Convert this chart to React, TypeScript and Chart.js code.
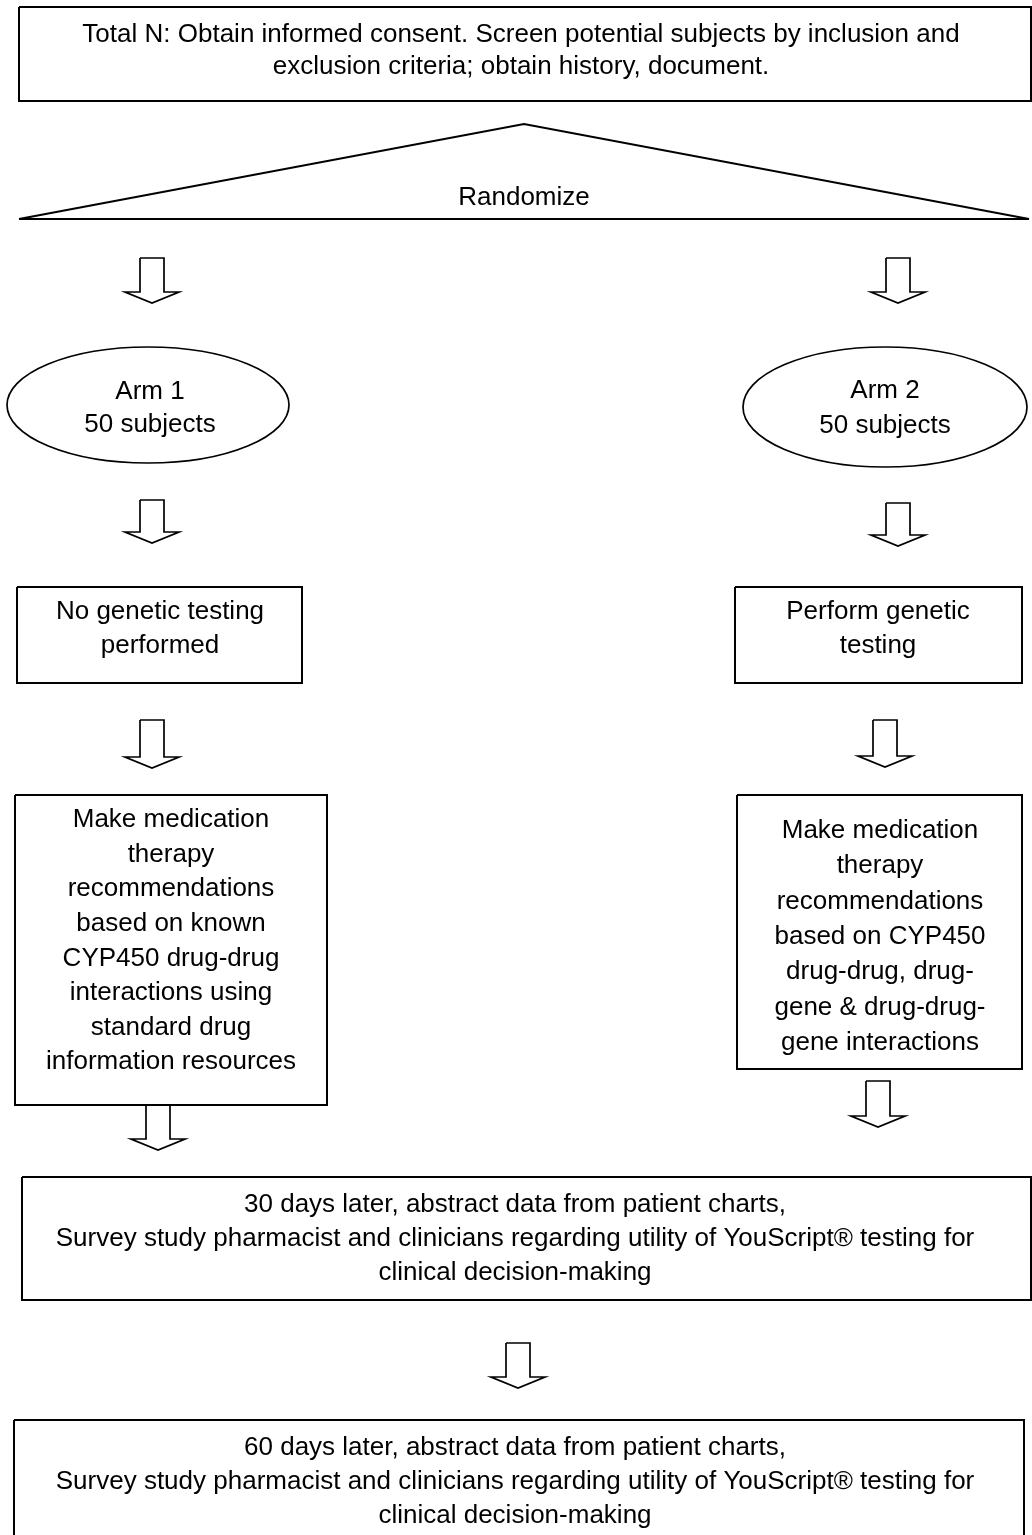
import { useEffect, useRef } from "react";
import { Chart, registerables } from "chart.js";

Chart.register(...registerables);

const W = 1032;
const H = 1535;

// Text of each node (one entry per line)
const topText = [
  "Total N: Obtain informed consent. Screen potential subjects by inclusion and",
  "exclusion criteria; obtain history, document.",
];
const randomizeText = ["Randomize"];
const arm1Text = ["Arm 1", "50 subjects"];
const arm2Text = ["Arm 2", "50 subjects"];
const noTestText = ["No genetic testing", "performed"];
const testText = ["Perform genetic", "testing"];
const arm1RecText = [
  "Make medication",
  "therapy",
  "recommendations",
  "based on known",
  "CYP450 drug-drug",
  "interactions using",
  "standard drug",
  "information resources",
];
const arm2RecText = [
  "Make medication",
  "therapy",
  "recommendations",
  "based on CYP450",
  "drug-drug, drug-",
  "gene & drug-drug-",
  "gene interactions",
];
const day30Text = [
  "30 days later, abstract data from patient charts,",
  "Survey study pharmacist and clinicians regarding utility of YouScript® testing for",
  "clinical decision-making",
];
const day60Text = [
  "60 days later, abstract data from patient charts,",
  "Survey study pharmacist and clinicians regarding utility of YouScript® testing for",
  "clinical decision-making",
];

// Rectangles: [x0, x1, y0, y1] in diagram units
const rectTop = [19, 1031, 7, 101];
const rectNoTest = [17, 302, 587, 683];
const rectTest = [735, 1022, 587, 683];
const rectArm1Rec = [15, 327, 795, 1105];
const rectArm2Rec = [737, 1022, 795, 1069];
const rectDay30 = [22, 1031, 1177, 1300];
const rectDay60 = [14, 1024, 1420, 1560];
const rects = [rectTop, rectNoTest, rectTest, rectArm1Rec, rectArm2Rec, rectDay30, rectDay60];

// Triangle vertices (x, y)
const triangleX = [19, 524, 1029, 19];
const triangleY = [219, 124, 219, 219];

// Ellipses: [cx, cy, rx, ry]
const ellipseArm1 = [148, 405, 141, 58];
const ellipseArm2 = [885, 407, 142, 60];
const ellipses = [ellipseArm1, ellipseArm2];

// Block arrows: [cx, yTop, yTip]
const arrowList = [
  [152, 258, 303],
  [898, 258, 303],
  [152, 500, 543],
  [898, 503, 546],
  [152, 720, 768],
  [885, 720, 767],
  [158, 1105, 1150],
  [878, 1081, 1127],
  [518, 1343, 1388],
];
const shaftHalf = 12;
const headHalf = 27;
const headH = 11;

// Text placement: [lines, cx, firstLineY, lineStep]
const textBlocks: [string[], number, number, number][] = [
  [topText, 521, 35, 32],
  [randomizeText, 524, 198, 34],
  [arm1Text, 150, 392, 33],
  [arm2Text, 885, 391, 35],
  [noTestText, 160, 612, 34],
  [testText, 878, 612, 34],
  [arm1RecText, 171, 820, 34.6],
  [arm2RecText, 880, 831, 35.3],
  [day30Text, 515, 1205, 34],
  [day60Text, 515, 1448, 34],
];

const FONT = '26px "Liberation Sans", Arial, sans-serif';

function polyDataset(xs: number[], ys: number[], width: number) {
  return {
    data: xs.map((x, i) => ({ x, y: ys[i] })),
    showLine: true,
    borderColor: "#000",
    borderWidth: width,
    pointRadius: 0,
    fill: false,
    tension: 0,
    clip: false as any,
    borderJoinStyle: "miter" as const,
    borderCapStyle: "butt" as const,
  };
}

export default function App() {
  const ref = useRef<HTMLCanvasElement | null>(null);

  useEffect(() => {
    document.body.style.margin = "0";
    const canvas = ref.current;
    if (!canvas) return;

    const datasets: any[] = [];
    rects.forEach(([x0, x1, y0, y1]) => {
      datasets.push(polyDataset([x0, x1, x1, x0, x0], [y0, y0, y1, y1, y0], 2));
    });
    datasets.push(polyDataset(triangleX, triangleY, 2));
    arrowList.forEach(([cx, top, tip]) => {
      const base = tip - headH;
      const xs = [cx - shaftHalf, cx - shaftHalf, cx - headHalf, cx, cx + headHalf, cx + shaftHalf, cx + shaftHalf, cx - shaftHalf];
      const ys = [top, base, base, tip, base, base, top, top];
      datasets.push(polyDataset(xs, ys, 1.7));
    });

    const overlay = {
      id: "flowOverlay",
      afterDatasetsDraw(chart: any) {
        const ctx = chart.ctx as CanvasRenderingContext2D;
        const xs = chart.scales.x;
        const ys = chart.scales.y;
        ctx.save();
        ctx.strokeStyle = "#000";
        ctx.lineWidth = 1.7;
        ellipses.forEach(([cx, cy, rx, ry]) => {
          const px = xs.getPixelForValue(cx);
          const py = ys.getPixelForValue(cy);
          const prx = Math.abs(xs.getPixelForValue(cx + rx) - px);
          const pry = Math.abs(ys.getPixelForValue(cy + ry) - py);
          ctx.beginPath();
          ctx.ellipse(px, py, prx, pry, 0, 0, Math.PI * 2);
          ctx.stroke();
        });
        ctx.fillStyle = "#000";
        ctx.font = FONT;
        ctx.textAlign = "center";
        ctx.textBaseline = "middle";
        textBlocks.forEach(([lines, cx, y0, step]) => {
          lines.forEach((line, i) => {
            ctx.fillText(line, xs.getPixelForValue(cx), ys.getPixelForValue(y0 + i * step));
          });
        });
        ctx.restore();
      },
    };

    const chart = new Chart(canvas, {
      type: "scatter",
      data: { datasets },
      options: {
        animation: false,
        responsive: false,
        devicePixelRatio: 1,
        layout: { padding: 0 },
        plugins: { legend: { display: false }, tooltip: { enabled: false } },
        events: [],
        scales: {
          x: { type: "linear", min: 0, max: W, display: false },
          y: { type: "linear", min: 0, max: H, reverse: true, display: false },
        },
      },
      plugins: [overlay],
    });

    return () => chart.destroy();
  }, []);

  return (
    <div style={{ width: W, height: H, background: "#fff" }}>
      <canvas ref={ref} width={W} height={H} style={{ display: "block" }} />
    </div>
  );
}
